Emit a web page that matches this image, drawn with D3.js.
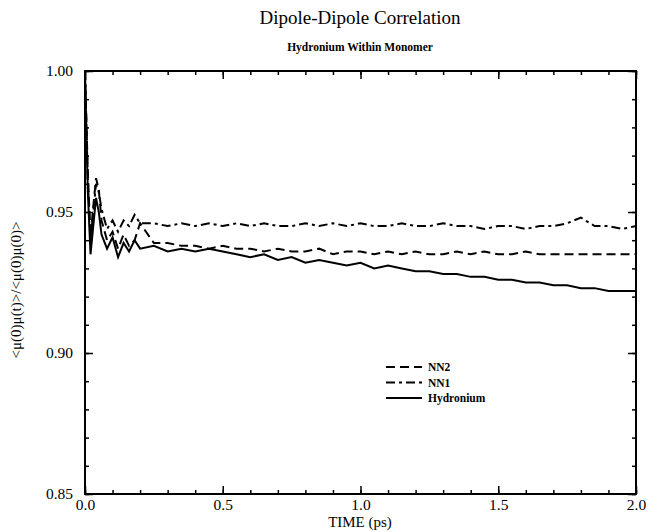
<!DOCTYPE html>
<html><head><meta charset="utf-8">
<script src="https://cdn.jsdelivr.net/npm/d3@7"></script>
<style>body{margin:0;background:#fff}svg{display:block}</style>
</head><body>
<svg id="c" width="663" height="532"></svg>
<script>
const times = [0,0.01,0.02,0.03,0.04,0.05,0.06,0.08,0.10,0.12,0.14,0.16,0.18,0.20,0.25,0.30,0.35,0.40,0.45,0.50,0.55,0.60,0.65,0.70,0.75,0.80,0.85,0.90,0.95,1.00,1.05,1.10,1.15,1.20,1.25,1.30,1.35,1.40,1.45,1.50,1.55,1.60,1.65,1.70,1.75,1.80,1.85,1.90,1.95,2.00];
const nn2 = [1.000,0.965,0.941,0.952,0.962,0.958,0.947,0.940,0.943,0.937,0.942,0.938,0.940,0.946,0.939,0.939,0.938,0.938,0.937,0.938,0.937,0.937,0.936,0.937,0.936,0.936,0.937,0.935,0.936,0.936,0.935,0.936,0.935,0.936,0.935,0.935,0.936,0.935,0.936,0.935,0.935,0.936,0.935,0.935,0.935,0.935,0.935,0.935,0.935,0.935];
const nn1 = [1.000,0.962,0.940,0.950,0.960,0.957,0.951,0.944,0.947,0.943,0.947,0.945,0.949,0.946,0.946,0.945,0.946,0.945,0.946,0.945,0.946,0.945,0.946,0.945,0.945,0.946,0.945,0.946,0.945,0.946,0.945,0.945,0.946,0.945,0.945,0.946,0.945,0.945,0.944,0.945,0.945,0.944,0.945,0.945,0.946,0.948,0.945,0.945,0.944,0.945];
const hyd = [1.000,0.958,0.935,0.945,0.955,0.950,0.942,0.937,0.941,0.934,0.939,0.936,0.940,0.937,0.938,0.936,0.937,0.936,0.937,0.936,0.935,0.934,0.935,0.933,0.934,0.932,0.933,0.932,0.931,0.932,0.930,0.931,0.930,0.929,0.929,0.928,0.928,0.927,0.927,0.926,0.926,0.925,0.925,0.924,0.924,0.923,0.923,0.922,0.922,0.922];
const xTicks = [0,0.5,1.0,1.5,2.0];
const yTicks = [0.85,0.90,0.95,1.00];
const seriesNames = ["NN2","NN1","Hydronium"];

const FONT = '"Liberation Serif","Times New Roman",serif';
const svg = d3.select("#c");
const L=85,R=636,T=71,B=494;
const x = d3.scaleLinear().domain([0,2]).range([L,R]);
const y = d3.scaleLinear().domain([0.85,1.0]).range([B,T]);

function txt(sel){return sel.style("font-family",FONT).style("fill","#000");}
txt(svg.append("text")).attr("x",360).attr("y",24).attr("text-anchor","middle").style("font-size","19px").text("Dipole-Dipole Correlation");
txt(svg.append("text")).attr("x",360).attr("y",51).attr("text-anchor","middle").style("font-size","11.5px").style("font-weight","bold").text("Hydronium Within Monomer");

const styles = {NN2:"9,5",NN1:"9,4,3,4",Hydronium:null};
const data = {NN2:nn2,NN1:nn1,Hydronium:hyd};
const line = d3.line().x((d,i)=>x(times[i])).y(d=>y(d));
const g = svg.append("g");
seriesNames.forEach(n=>{
  g.append("path").datum(data[n]).attr("d",line).attr("fill","none").attr("stroke","#000")
   .attr("stroke-width",2).attr("stroke-dasharray",styles[n]);
});

const minorX = d3.range(0,2.0001,0.1);
const minorY = d3.range(0.85,1.0001,0.01);
function axisG(axis,tr){return svg.append("g").attr("transform",tr).call(axis);}
const ax = [
  axisG(d3.axisBottom(x).tickValues(minorX).tickSize(-4).tickFormat(""),`translate(0,${B})`),
  axisG(d3.axisBottom(x).tickValues(xTicks).tickSize(-8).tickPadding(5).tickFormat(d3.format(".1f")),`translate(0,${B})`),
  axisG(d3.axisTop(x).tickValues(minorX).tickSize(-4).tickFormat(""),`translate(0,${T})`),
  axisG(d3.axisTop(x).tickValues(xTicks).tickSize(-8).tickFormat(""),`translate(0,${T})`),
  axisG(d3.axisLeft(y).tickValues(minorY).tickSize(-4).tickFormat(""),`translate(${L},0)`),
  axisG(d3.axisLeft(y).tickValues(yTicks).tickSize(-8).tickPadding(12).tickFormat(d3.format(".2f")),`translate(${L},0)`),
  axisG(d3.axisRight(y).tickValues(minorY).tickSize(-4).tickFormat(""),`translate(${R},0)`),
  axisG(d3.axisRight(y).tickValues(yTicks).tickSize(-8).tickFormat(""),`translate(${R},0)`)
];
ax.forEach(a=>{a.selectAll(".domain").remove();a.selectAll("line").attr("stroke","#000").attr("stroke-width",1.5);
  txt(a.selectAll("text")).style("font-size","15.5px");});
svg.append("rect").attr("x",L).attr("y",T).attr("width",R-L).attr("height",B-T).attr("fill","none").attr("stroke","#000").attr("stroke-width",2);

txt(svg.append("text")).attr("x",360).attr("y",527).attr("text-anchor","middle").style("font-size","15px").text("TIME (ps)");
txt(svg.append("text")).attr("transform","translate(21,290) rotate(-90)").attr("text-anchor","middle").style("font-size","15px").text("<μ(0)μ(t)>/<μ(0)μ(0)>");

const lg = svg.append("g");
seriesNames.forEach((n,i)=>{
  const yy = 367 + i*15.5;
  lg.append("line").attr("x1",386).attr("x2",422).attr("y1",yy).attr("y2",yy).attr("stroke","#000").attr("stroke-width",2).attr("stroke-dasharray",styles[n]);
  txt(lg.append("text")).attr("x",428).attr("y",yy+4).style("font-size","11.5px").style("font-weight","bold").text(n);
});
</script>
</body></html>
